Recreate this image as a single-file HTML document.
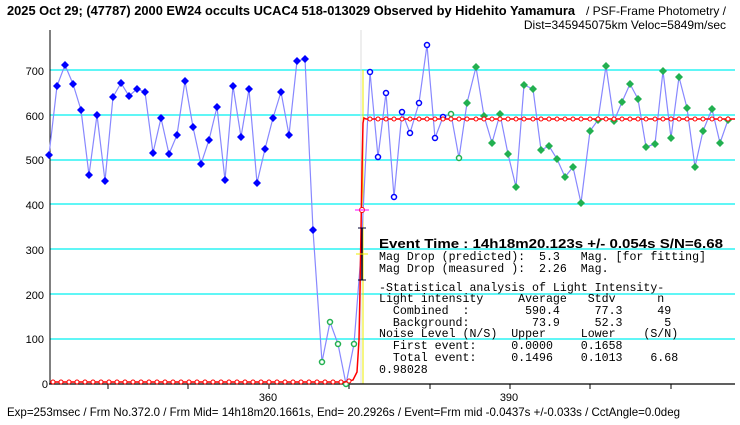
<!DOCTYPE html>
<html><head><meta charset="utf-8"><style>
body{margin:0;background:#fff;width:740px;height:425px;overflow:hidden}
svg{display:block}
text{font-family:"Liberation Sans",sans-serif;fill:#000}
.m{font-family:"Liberation Mono",monospace;font-size:11.6px;white-space:pre}
</style></head><body>
<svg width="740" height="425" xmlns="http://www.w3.org/2000/svg">
<text x="7" y="15" font-size="13" font-weight="bold" textLength="568" lengthAdjust="spacingAndGlyphs">2025 Oct 29; (47787) 2000 EW24 occults UCAC4 518-013029 Observed by Hidehito Yamamura</text>
<text x="726" y="15" font-size="12" text-anchor="end">/ PSF-Frame Photometry /</text>
<text x="726" y="29" font-size="12" text-anchor="end">Dist=345945075km Veloc=5849m/sec</text>
<g stroke="#00f0f0" stroke-width="1.3">
<line x1="50" x2="735" y1="339" y2="339"/><line x1="50" x2="735" y1="294" y2="294"/><line x1="50" x2="735" y1="249" y2="249"/><line x1="50" x2="735" y1="204" y2="204"/><line x1="50" x2="735" y1="160" y2="160"/><line x1="50" x2="735" y1="115" y2="115"/><line x1="50" x2="735" y1="70" y2="70"/>
</g>
<line x1="361" x2="361" y1="30" y2="384" stroke="#ddd"/>
<line x1="363" x2="363" y1="70" y2="384" stroke="#ee0" />
<line x1="50" x2="50" y1="30" y2="384" stroke="#000"/>
<line x1="49" x2="735" y1="384" y2="384" stroke="#000" stroke-width="1.3"/>
<g stroke="#000"><line x1="108" x2="108" y1="384" y2="389"/><line x1="188" x2="188" y1="384" y2="389"/><line x1="269" x2="269" y1="384" y2="389"/><line x1="349" x2="349" y1="384" y2="389"/><line x1="430" x2="430" y1="384" y2="389"/><line x1="510" x2="510" y1="384" y2="389"/><line x1="590" x2="590" y1="384" y2="389"/><line x1="671" x2="671" y1="384" y2="389"/></g>
<g font-size="11" text-anchor="end">
<text x="44" y="75">700</text><text x="44" y="120">600</text><text x="44" y="164">500</text><text x="44" y="209">400</text><text x="44" y="254">300</text><text x="44" y="299">200</text><text x="44" y="343">100</text><text x="48" y="388">0</text>
</g>
<g font-size="11" text-anchor="middle"><text x="268" y="401">360</text><text x="509" y="401">390</text></g>
<polyline fill="none" stroke="#8888ff" stroke-width="1.2" points="49,155 57,86 65,65 73,84 81,110 89,175 97,115 105,181 113,97 121,83 129,96 137,89 145,92 153,153 161,118 169,154 177,135 185,81 193,127 201,164 209,140 217,107 225,180 233,86 241,137 249,89 257,183 265,149 273,118 281,92 289,135 297,61 305,59 313,230 322,362 330,322 338,344 346,384 354,344 361,254 370,72 378,157 386,93 394,197 402,112 410,133 419,103 427,45 435,138 443,117 451,114 459,158 467,103 476,67 484,116 492,143 500,114 508,154 516,187 524,85 533,89 541,150 549,146 557,159 565,177 573,167 581,203 590,131 598,120 606,66 614,121 622,102 630,84 638,99 646,147 655,144 663,71 671,138 679,77 687,108 695,167 703,131 712,109 720,143 728,120"/>
<g fill="#00f">
<path d="M49 151l4 4-4 4-4-4z"/><path d="M57 82l4 4-4 4-4-4z"/><path d="M65 61l4 4-4 4-4-4z"/><path d="M73 80l4 4-4 4-4-4z"/><path d="M81 106l4 4-4 4-4-4z"/><path d="M89 171l4 4-4 4-4-4z"/><path d="M97 111l4 4-4 4-4-4z"/><path d="M105 177l4 4-4 4-4-4z"/><path d="M113 93l4 4-4 4-4-4z"/><path d="M121 79l4 4-4 4-4-4z"/><path d="M129 92l4 4-4 4-4-4z"/><path d="M137 85l4 4-4 4-4-4z"/><path d="M145 88l4 4-4 4-4-4z"/><path d="M153 149l4 4-4 4-4-4z"/><path d="M161 114l4 4-4 4-4-4z"/><path d="M169 150l4 4-4 4-4-4z"/><path d="M177 131l4 4-4 4-4-4z"/><path d="M185 77l4 4-4 4-4-4z"/><path d="M193 123l4 4-4 4-4-4z"/><path d="M201 160l4 4-4 4-4-4z"/><path d="M209 136l4 4-4 4-4-4z"/><path d="M217 103l4 4-4 4-4-4z"/><path d="M225 176l4 4-4 4-4-4z"/><path d="M233 82l4 4-4 4-4-4z"/><path d="M241 133l4 4-4 4-4-4z"/><path d="M249 85l4 4-4 4-4-4z"/><path d="M257 179l4 4-4 4-4-4z"/><path d="M265 145l4 4-4 4-4-4z"/><path d="M273 114l4 4-4 4-4-4z"/><path d="M281 88l4 4-4 4-4-4z"/><path d="M289 131l4 4-4 4-4-4z"/><path d="M297 57l4 4-4 4-4-4z"/><path d="M305 55l4 4-4 4-4-4z"/><path d="M313 226l4 4-4 4-4-4z"/>
</g>
<g fill="#fff" stroke="#00f" stroke-width="1.5">
<circle cx="370" cy="72" r="2.5"/><circle cx="378" cy="157" r="2.5"/><circle cx="386" cy="93" r="2.5"/><circle cx="394" cy="197" r="2.5"/><circle cx="402" cy="112" r="2.5"/><circle cx="410" cy="133" r="2.5"/><circle cx="419" cy="103" r="2.5"/><circle cx="427" cy="45" r="2.5"/><circle cx="435" cy="138" r="2.5"/><circle cx="443" cy="117" r="2.5"/>
</g>
<g fill="#fff" stroke="#22b050" stroke-width="1.5">
<circle cx="322" cy="362" r="2.5"/><circle cx="330" cy="322" r="2.5"/><circle cx="338" cy="344" r="2.5"/><circle cx="346" cy="384" r="2.5"/><circle cx="354" cy="344" r="2.5"/><circle cx="451" cy="114" r="2.5"/><circle cx="459" cy="158" r="2.5"/>
</g>
<g fill="#22b050">
<path d="M467 99l4 4-4 4-4-4zM476 63l4 4-4 4-4-4zM484 112l4 4-4 4-4-4zM492 139l4 4-4 4-4-4zM500 110l4 4-4 4-4-4zM508 150l4 4-4 4-4-4zM516 183l4 4-4 4-4-4zM524 81l4 4-4 4-4-4zM533 85l4 4-4 4-4-4zM541 146l4 4-4 4-4-4zM549 142l4 4-4 4-4-4zM557 155l4 4-4 4-4-4zM565 173l4 4-4 4-4-4zM573 163l4 4-4 4-4-4zM581 199l4 4-4 4-4-4zM590 127l4 4-4 4-4-4zM598 116l4 4-4 4-4-4zM606 62l4 4-4 4-4-4zM614 117l4 4-4 4-4-4zM622 98l4 4-4 4-4-4zM630 80l4 4-4 4-4-4zM638 95l4 4-4 4-4-4zM646 143l4 4-4 4-4-4zM655 140l4 4-4 4-4-4zM663 67l4 4-4 4-4-4zM671 134l4 4-4 4-4-4zM679 73l4 4-4 4-4-4zM687 104l4 4-4 4-4-4zM695 163l4 4-4 4-4-4zM703 127l4 4-4 4-4-4zM712 105l4 4-4 4-4-4zM720 139l4 4-4 4-4-4zM728 116l4 4-4 4-4-4z"/>
</g>
<polyline fill="none" stroke="#f00" stroke-width="1.5" points="50,382 345,382 353,380 357,372 359,340 360,290 361,230 362,170 363,123 364,118 366,119 735,119"/>
<g fill="#fff" stroke="#f00" stroke-width="1">
<circle cx="53" cy="382" r="2"/><circle cx="61" cy="382" r="2"/><circle cx="69" cy="382" r="2"/><circle cx="77" cy="382" r="2"/><circle cx="85" cy="382" r="2"/><circle cx="93" cy="382" r="2"/><circle cx="101" cy="382" r="2"/><circle cx="109" cy="382" r="2"/><circle cx="117" cy="382" r="2"/><circle cx="125" cy="382" r="2"/><circle cx="133" cy="382" r="2"/><circle cx="141" cy="382" r="2"/><circle cx="149" cy="382" r="2"/><circle cx="157" cy="382" r="2"/><circle cx="165" cy="382" r="2"/><circle cx="173" cy="382" r="2"/><circle cx="181" cy="382" r="2"/><circle cx="189" cy="382" r="2"/><circle cx="197" cy="382" r="2"/><circle cx="205" cy="382" r="2"/><circle cx="213" cy="382" r="2"/><circle cx="221" cy="382" r="2"/><circle cx="229" cy="382" r="2"/><circle cx="237" cy="382" r="2"/><circle cx="245" cy="382" r="2"/><circle cx="253" cy="382" r="2"/><circle cx="261" cy="382" r="2"/><circle cx="269" cy="382" r="2"/><circle cx="277" cy="382" r="2"/><circle cx="285" cy="382" r="2"/><circle cx="293" cy="382" r="2"/><circle cx="301" cy="382" r="2"/><circle cx="309" cy="382" r="2"/><circle cx="317" cy="382" r="2"/><circle cx="325" cy="382" r="2"/><circle cx="333" cy="382" r="2"/><circle cx="341" cy="382" r="2"/><circle cx="349" cy="381" r="2"/>
<circle cx="370" cy="119" r="2"/><circle cx="378" cy="119" r="2"/><circle cx="386" cy="119" r="2"/><circle cx="394" cy="119" r="2"/><circle cx="402" cy="119" r="2"/><circle cx="410" cy="119" r="2"/><circle cx="419" cy="119" r="2"/><circle cx="427" cy="119" r="2"/><circle cx="435" cy="119" r="2"/><circle cx="443" cy="119" r="2"/><circle cx="451" cy="119" r="2"/><circle cx="459" cy="119" r="2"/><circle cx="467" cy="119" r="2"/><circle cx="476" cy="119" r="2"/><circle cx="484" cy="119" r="2"/><circle cx="492" cy="119" r="2"/><circle cx="500" cy="119" r="2"/><circle cx="508" cy="119" r="2"/><circle cx="516" cy="119" r="2"/><circle cx="524" cy="119" r="2"/><circle cx="533" cy="119" r="2"/><circle cx="541" cy="119" r="2"/><circle cx="549" cy="119" r="2"/><circle cx="557" cy="119" r="2"/><circle cx="565" cy="119" r="2"/><circle cx="573" cy="119" r="2"/><circle cx="581" cy="119" r="2"/><circle cx="590" cy="119" r="2"/><circle cx="598" cy="119" r="2"/><circle cx="606" cy="119" r="2"/><circle cx="614" cy="119" r="2"/><circle cx="622" cy="119" r="2"/><circle cx="630" cy="119" r="2"/><circle cx="638" cy="119" r="2"/><circle cx="646" cy="119" r="2"/><circle cx="655" cy="119" r="2"/><circle cx="663" cy="119" r="2"/><circle cx="671" cy="119" r="2"/><circle cx="679" cy="119" r="2"/><circle cx="687" cy="119" r="2"/><circle cx="695" cy="119" r="2"/><circle cx="703" cy="119" r="2"/><circle cx="712" cy="119" r="2"/><circle cx="720" cy="119" r="2"/><circle cx="728" cy="119" r="2"/>
<circle cx="362" cy="210" r="2.5"/>
</g>
<line x1="355" x2="369" y1="210" y2="210" stroke="#f0f"/>
<line x1="362" x2="362" y1="228" y2="280" stroke="#003" stroke-width="1.5"/>
<line x1="358" x2="366" y1="228" y2="228" stroke="#003"/><line x1="358" x2="366" y1="280" y2="280" stroke="#003"/>
<line x1="356" x2="368" y1="254" y2="254" stroke="#ee0"/>
<text x="379" y="248" font-size="13" font-weight="bold" textLength="344" lengthAdjust="spacingAndGlyphs">Event Time : 14h18m20.123s  +/- 0.054s  S/N=6.68</text>
<text class="m" x="379" y="260">Mag Drop (predicted):  5.3   Mag. [for fitting]</text>
<text class="m" x="379" y="272">Mag Drop (measured ):  2.26  Mag.</text>
<text class="m" x="379" y="291">-Statistical analysis of Light Intensity-</text>
<text class="m" x="379" y="302">Light intensity     Average   Stdv      n</text>
<text class="m" x="379" y="314">  Combined  :        590.4     77.3     49</text>
<text class="m" x="379" y="326">  Background:         73.9     52.3      5</text>
<text class="m" x="379" y="337">Noise Level (N/S)  Upper     Lower    (S/N)</text>
<text class="m" x="379" y="349">  First event:     0.0000    0.1658</text>
<text class="m" x="379" y="361">  Total event:     0.1496    0.1013    6.68</text>
<text class="m" x="379" y="373">0.98028</text>
<text x="7" y="416" font-size="12" textLength="673" lengthAdjust="spacingAndGlyphs">Exp=253msec / Frm No.372.0 / Frm Mid= 14h18m20.1661s,  End= 20.2926s / Event=Frm mid -0.0437s +/-0.033s / CctAngle=0.0deg</text>
</svg>
</body></html>
